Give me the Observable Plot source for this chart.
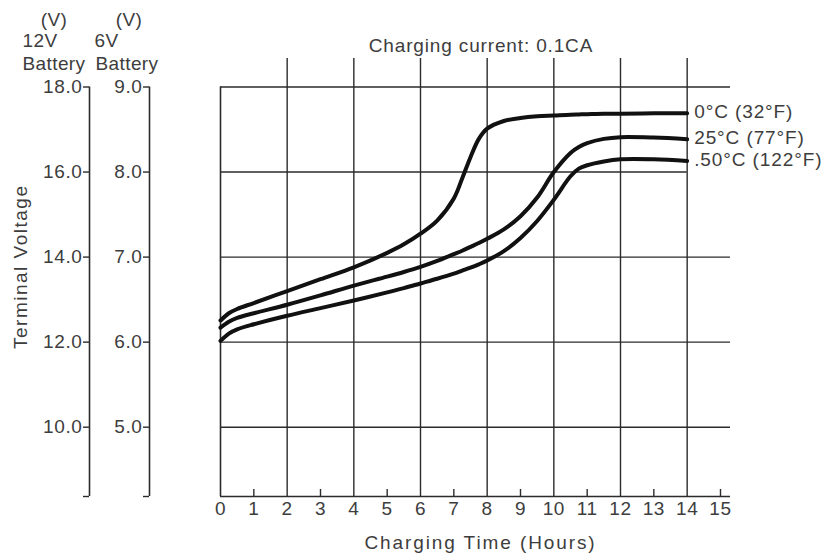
<!DOCTYPE html>
<html>
<head>
<meta charset="utf-8">
<script src="https://cdn.jsdelivr.net/npm/d3@7"></script>
<script src="https://cdn.jsdelivr.net/npm/@observablehq/plot@0.6"></script>
<style>
  html, body { margin: 0; padding: 0; background: #fff; }
  #chart svg text { letter-spacing: 0.6px; }
</style>
</head>
<body>
<div id="chart"></div>
<script>
// ---- data ----
const hours = [0, 0.25, 0.5, 1, 2, 3, 4, 5, 5.5, 6, 6.5, 7, 7.25, 7.5, 7.75, 8, 8.5, 9, 9.5, 10, 10.5, 10.75, 11, 11.5, 12, 13, 14];
const v0C  = [12.51, 12.68, 12.78, 12.92, 13.20, 13.48, 13.76, 14.10, 14.30, 14.55, 14.86, 15.38, 15.85, 16.35, 16.78, 17.02, 17.20, 17.27, 17.31, 17.33, 17.35, 17.355, 17.36, 17.37, 17.37, 17.38, 17.38];
const v25C = [12.34, 12.48, 12.57, 12.68, 12.88, 13.10, 13.33, 13.54, 13.65, 13.77, 13.91, 14.07, 14.15, 14.24, 14.33, 14.43, 14.65, 14.96, 15.40, 16.00, 16.45, 16.59, 16.68, 16.78, 16.82, 16.81, 16.77];
const v50C = [12.03, 12.20, 12.30, 12.42, 12.62, 12.80, 12.98, 13.17, 13.27, 13.38, 13.49, 13.61, 13.68, 13.75, 13.83, 13.92, 14.14, 14.45, 14.85, 15.35, 15.90, 16.08, 16.16, 16.25, 16.30, 16.30, 16.26];
const seriesNames = ["0°C (32°F)", "25°C (77°F)", ".50°C (122°F)"];
const xTicks = [0, 1, 2, 3, 4, 5, 6, 7, 8, 9, 10, 11, 12, 13, 14, 15];
const twelveVTicks = [10.0, 12.0, 14.0, 16.0, 18.0];
const sixVTicks = [5.0, 6.0, 7.0, 8.0, 9.0];
const titleText = "Charging current: 0.1CA";
const xLabel = "Charging Time (Hours)";
const yLabel = "Terminal Voltage";
const headerUnit = "(V)";
const header12 = ["12V", "Battery"];
const header6 = ["6V", "Battery"];

// ---- build tables ----
const seriesValues = [v0C, v25C, v50C];
const rows = [];
seriesValues.forEach((vals, i) => hours.forEach((h, j) => rows.push({hour: h, v: vals[j], series: seriesNames[i]})));
const lastPoints = seriesValues.map((vals, i) => ({hour: hours[hours.length - 1], v: vals[vals.length - 1], series: seriesNames[i]}));

const yMin = 8.37, yTop = 18, gridTop = 18.67, xEnd = 15.3;
const lineColor = "#2b2b2b";
const textColor = "#3d3d3d";
const font = "'Liberation Sans', Arial, Helvetica, sans-serif";
const fs = 19;

const txt = (s, opts) => Plot.text([s], {text: d => d, fontSize: fs, fill: textColor, lineAnchor: "middle", ...opts});

const chart = Plot.plot({
  width: 822,
  height: 559,
  marginLeft: 220,
  marginRight: 102,
  marginTop: 86.5,
  marginBottom: 63,
  style: {fontFamily: font, fontSize: fs + "px", color: textColor, background: "#fff", overflow: "visible"},
  x: {domain: [0, 15], label: null},
  y: {domain: [yMin, yTop], label: null},
  marks: [
    // horizontal grid
    Plot.ruleY(twelveVTicks.filter(v => v !== 16), {x1: 0, x2: xEnd, stroke: lineColor, strokeWidth: 1.4}),
    Plot.ruleY([16], {x1: 0, x2: 14, stroke: lineColor, strokeWidth: 1.4}),
    // vertical grid
    Plot.ruleX(xTicks.filter(h => h % 2 === 0 && h > 0), {y1: yMin, y2: gridTop, stroke: lineColor, strokeWidth: 1.4}),
    Plot.ruleX([0], {y1: yMin, y2: yTop, stroke: lineColor, strokeWidth: 1.6}),
    // odd-hour small ticks
    Plot.ruleX(xTicks.filter(h => h % 2 === 1), {y1: yMin, y2: yMin + 7 / 42.5, stroke: lineColor, strokeWidth: 1.4}),
    // x axis line
    Plot.ruleY([yMin], {x1: 0, x2: xEnd, stroke: lineColor, strokeWidth: 1.6}),
    Plot.axisX(xTicks, {tickSize: 0, tickPadding: 5, label: null, fontSize: fs, fill: textColor, tickFormat: d => String(d)}),
    // 12V axis
    Plot.ruleX([0], {y1: yMin, y2: yTop, dx: -131, stroke: lineColor, strokeWidth: 1.6}),
    Plot.axisY(twelveVTicks, {anchor: "left", dx: -131, tickSize: 6, tickPadding: 1, label: null, tickFormat: d => d.toFixed(1), fontSize: fs, fill: textColor, stroke: lineColor, strokeWidth: 1.4}),
    Plot.axisY([yMin], {anchor: "left", dx: -131, tickSize: 6, label: null, tickFormat: () => "", stroke: lineColor, strokeWidth: 1.4}),
    // 6V axis
    Plot.ruleX([0], {y1: yMin, y2: yTop, dx: -71, stroke: lineColor, strokeWidth: 1.6}),
    Plot.axisY(sixVTicks.map(v => v * 2), {anchor: "left", dx: -71, tickSize: 6, tickPadding: 1, label: null, tickFormat: d => (d / 2).toFixed(1), fontSize: fs, fill: textColor, stroke: lineColor, strokeWidth: 1.4}),
    Plot.axisY([yMin], {anchor: "left", dx: -71, tickSize: 6, label: null, tickFormat: () => "", stroke: lineColor, strokeWidth: 1.4}),
    // curves
    Plot.line(rows, {x: "hour", y: "v", z: "series", curve: "catmull-rom", stroke: "#111", strokeWidth: 4}),
    // series labels
    Plot.text(lastPoints, {x: "hour", y: "v", text: "series", dx: 7, dy: -1, textAnchor: "start", fontSize: fs, fill: textColor}),
    // titles
    txt(titleText, {frameAnchor: "top", textAnchor: "middle", dx: 10.5, dy: -41.5}),
    txt(xLabel, {frameAnchor: "bottom", textAnchor: "middle", dx: 10, dy: 46}),
    txt(yLabel, {frameAnchor: "left", textAnchor: "middle", dx: -200, dy: -25, rotate: -90}),
    // headers
    txt(headerUnit, {frameAnchor: "top-left", dx: -166.5, dy: -67, textAnchor: "middle"}),
    txt(header12[0], {frameAnchor: "top-left", dx: -198, dy: -46, textAnchor: "start"}),
    txt(header12[1], {frameAnchor: "top-left", dx: -198, dy: -23, textAnchor: "start"}),
    txt(headerUnit, {frameAnchor: "top-left", dx: -91.5, dy: -67, textAnchor: "middle"}),
    txt(header6[0], {frameAnchor: "top-left", dx: -126, dy: -46, textAnchor: "start"}),
    txt(header6[1], {frameAnchor: "top-left", dx: -125, dy: -23, textAnchor: "start"})
  ]
});

// letter spacing tuned per text to match the reference's wide tracking
const spacing = new Map([
  [xLabel, "1.9px"],
  [yLabel, "1.5px"],
  [titleText, "0.85px"],
  ...seriesNames.map(s => [s, "0.9px"]),
  [headerUnit, "0.4px"], ["12V", "0.4px"], ["6V", "0.4px"], ["Battery", "0.4px"]
]);
d3.select(chart).selectAll("text").each(function() {
  const t = this.textContent;
  if (spacing.has(t)) this.style.letterSpacing = spacing.get(t);
});
document.getElementById("chart").appendChild(chart);
</script>
</body>
</html>
